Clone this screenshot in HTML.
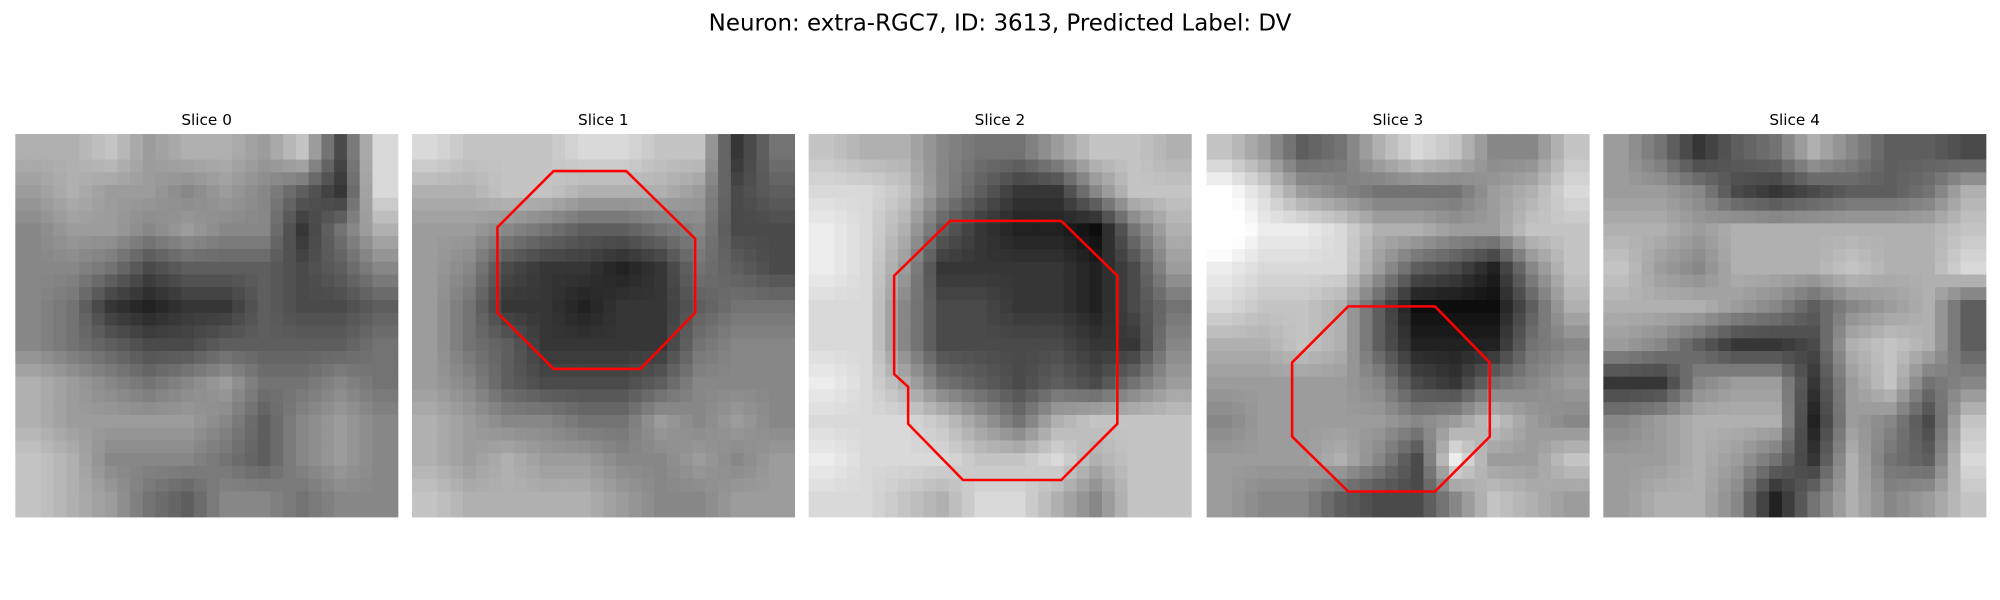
<!DOCTYPE html>
<html><head><meta charset="utf-8"><style>
html,body{margin:0;padding:0;background:#fff;width:2000px;height:600px;overflow:hidden}
svg{display:block}
text{font-family:"DejaVu Sans","Liberation Sans",sans-serif;fill:#000}
</style></head><body>
<svg id="fig" width="2000" height="600" viewBox="0 0 1568 470" preserveAspectRatio="none" xmlns="http://www.w3.org/2000/svg">
<rect width="1568" height="470" fill="#fff"/>
<text x="784" y="24" text-anchor="middle" font-size="18">Neuron: extra-RGC7, ID: 3613, Predicted Label: DV</text>
<g id="panels"></g>
</svg>
<script>
// coarse 10x10 intensity maps (hex 0-f, dark->light)
const slice0 = ["aab9aa9b5c","9a9989864c","899898847a","8875666568","8743446556","8765566667","a987897787","a999986898","ba88876898","ba97688788"];
const slice1 = ["cbbbccbb47","aabbaaa956","9987667855","9854434765","9744344677","9764444788","9865556888","a988779898","a9a9988989","baaaa98899"];
const slice2 = ["baa8779bba","ccb86448bb","dca643327a","dc94444359","cc85544357","cc85555448","dca7656579","cccb97abbb","dcccbbcabb","ccbacca8bb"];
const slice3 = ["b967acb88b","ec987779ac","fddcaa99bb","dccc96538b","cbba62226a","aaba633378","9999854789","8999989b98","999a85d99b","9886558ba9"];
const slice4 = ["97467a8665","998545667a","aa9aaaaaab","b98aaabaac","aaa98689a6","986445aba6","4489949b78","89aaa3985b","99a974a76c","9aa837a89b"];
const maps = [slice0, slice1, slice2, slice3, slice4];
const titles = ["Slice 0","Slice 1","Slice 2","Slice 3","Slice 4"];
// octagon outlines (relative panel units, panel = 300)
const outline1 = [[111,29],[168,29],[222,82],[222,140],[179,184],[111,184],[67,140],[67,73]];
const outline2 = [[111,68],[198,68],[242,111],[242,227],[198,271],[121,271],[78,227],[78,198],[67,188],[67,111]];
const outline3 = [[111,135],[179,135],[222,179],[222,237],[179,280],[111,280],[67,237],[67,179]];
const outlines = [null, outline1, outline2, outline3, null];

const NS = "http://www.w3.org/2000/svg";
const g = document.getElementById("panels");
const X0 = [12,323,634,946,1257], Y0 = 105, S = 300, N = 30, C = 10;
function val(m, r, c){ r=Math.max(0,Math.min(C-1,r)); c=Math.max(0,Math.min(C-1,c)); return parseInt(m[r][c],16)/15; }
function sample(m, i, j){
  const y=(i+0.5)/3-0.5, x=(j+0.5)/3-0.5;
  const y0=Math.floor(y), x0=Math.floor(x), fy=y-y0, fx=x-x0;
  return val(m,y0,x0)*(1-fy)*(1-fx)+val(m,y0,x0+1)*(1-fy)*fx+val(m,y0+1,x0)*fy*(1-fx)+val(m,y0+1,x0+1)*fy*fx;
}
maps.forEach((m, p) => {
  const pg = document.createElementNS(NS,"g");
  
  
  const t = document.createElementNS(NS,"text");
  
  
  t.setAttribute("x", X0[p]+S/2); t.setAttribute("y", 98);
  t.setAttribute("text-anchor","middle"); t.setAttribute("font-size","12");
  t.textContent = titles[p];
  pg.appendChild(t);
  const cs = S/N;
  for(let i=0;i<N;i++) for(let j=0;j<N;j++){
    let s = (sample(m,i,j)-0.55)*1.2+0.55;
    s = Math.max(0,Math.min(1,s));
    const v = Math.round(s*255);
    const r = document.createElementNS(NS,"rect");
    
    
    r.setAttribute("x", X0[p]+j*cs); r.setAttribute("y", Y0+i*cs);
    r.setAttribute("width", cs+0.3); r.setAttribute("height", cs+0.3);
    r.setAttribute("fill", `rgb(${v},${v},${v})`);
    pg.appendChild(r);
  }
  if(outlines[p]){
    const pl = document.createElementNS(NS,"polygon");
    
    
    pl.setAttribute("points", outlines[p].map(q=>(X0[p]+q[0])+","+(Y0+q[1])).join(" "));
    pl.setAttribute("fill","none"); pl.setAttribute("stroke","#ff0000"); pl.setAttribute("stroke-width","2");
    pg.appendChild(pl);
  }
  g.appendChild(pg);
});
</script>
</body></html>
